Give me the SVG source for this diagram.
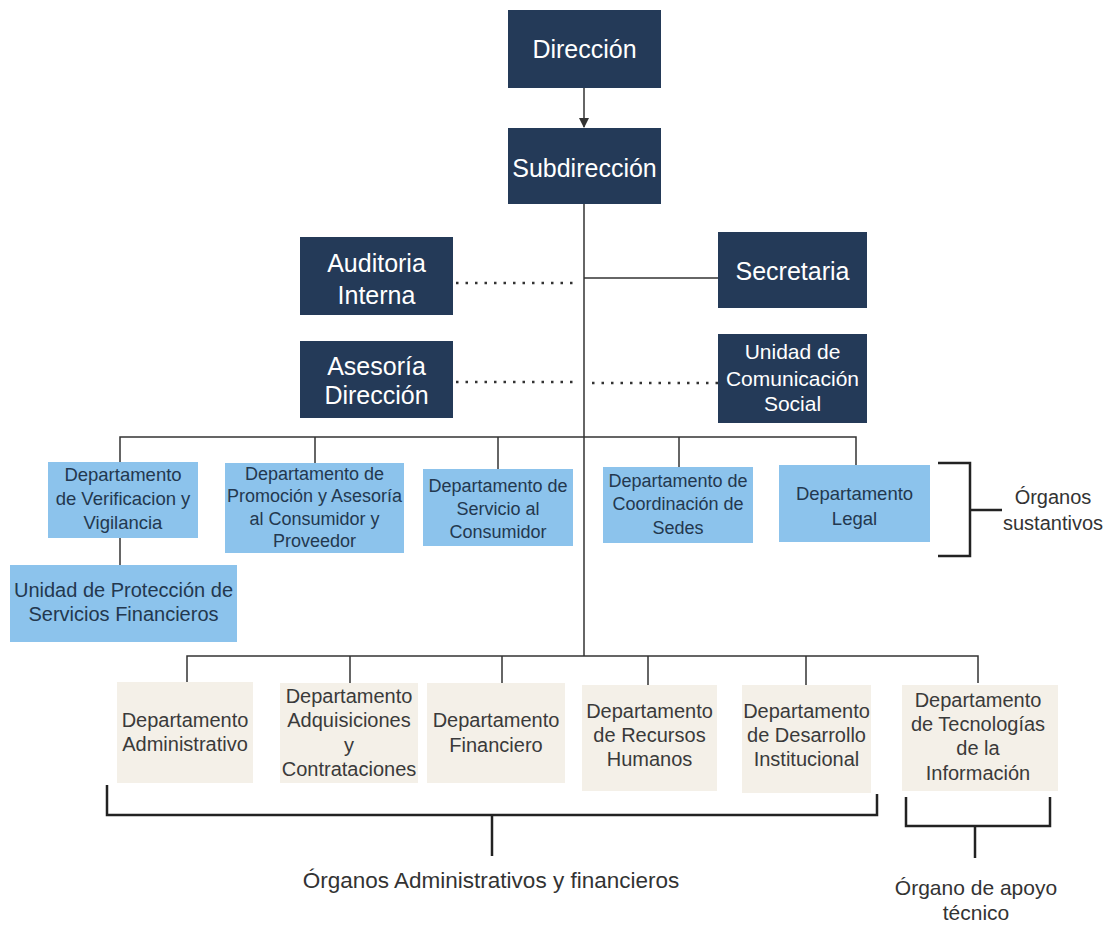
<svg xmlns="http://www.w3.org/2000/svg" width="1108" height="925" viewBox="0 0 1108 925" font-family="'Liberation Sans', Arial, sans-serif">
<style>
text{font-family:"Liberation Sans",Arial,sans-serif;text-anchor:middle}
.dark{fill:#243a58}
.blue{fill:#8cc3ec}
.beige{fill:#f4f0e8}
.tw{fill:#ffffff;font-size:25px}
.tws{fill:#ffffff;font-size:21px}
.tb{fill:#23384f;font-size:18.5px}
.tbs{fill:#23384f;font-size:18px}
.tg{fill:#3a3a3a;font-size:20px}
.tl{fill:#333333;font-size:22.5px}
.ln{stroke:#333;stroke-width:1.5;fill:none}
.dot{stroke:#333;stroke-width:2.5;fill:none;stroke-dasharray:2.5 7}
.br{stroke:#222;stroke-width:2.5;fill:none}
</style>
<defs>
<marker id="arr" markerWidth="10" markerHeight="10" refX="9" refY="5" orient="auto" markerUnits="userSpaceOnUse">
<path d="M0,0 L10,5 L0,10 z" fill="#333"/>
</marker>
</defs>
<rect width="1108" height="925" fill="#ffffff"/>
<g id="connectors">
<line class="ln" x1="584" y1="88" x2="584" y2="127" marker-end="url(#arr)"/>
<line class="ln" x1="584" y1="204" x2="584" y2="656"/>
<line class="ln" x1="584" y1="278" x2="718" y2="278"/>
<line class="dot" x1="456" y1="283" x2="577" y2="283"/>
<line class="dot" x1="456" y1="382" x2="577" y2="382"/>
<line class="dot" x1="592" y1="383" x2="718" y2="383"/>
<polyline class="ln" points="120,462 120,437 856,437 856,465"/>
<line class="ln" x1="315" y1="437" x2="315" y2="463"/>
<line class="ln" x1="498" y1="437" x2="498" y2="469"/>
<line class="ln" x1="679" y1="437" x2="679" y2="467"/>
<line class="ln" x1="120" y1="538" x2="120" y2="565"/>
<polyline class="ln" points="187,683 187,656 978,656 978,683"/>
<line class="ln" x1="350" y1="656" x2="350" y2="683"/>
<line class="ln" x1="502" y1="656" x2="502" y2="683"/>
<line class="ln" x1="648" y1="656" x2="648" y2="685"/>
<line class="ln" x1="806" y1="656" x2="806" y2="685"/>
</g>
<g id="brackets">
<polyline class="br" points="938,463 970,463 970,556 938,556"/>
<line class="br" x1="970" y1="510" x2="1002" y2="510"/>
<polyline class="br" points="107,785 107,815 877,815 877,794"/>
<line class="br" x1="492" y1="815" x2="492" y2="856"/>
<polyline class="br" points="906,797 906,826 1050,826 1050,797"/>
<line class="br" x1="975" y1="826" x2="975" y2="858"/>
</g>
<g id="n-direccion"><rect class="dark" x="508" y="10" width="153" height="78"/><text class="tw" x="584.5" y="58">Dirección</text></g>
<g id="n-subdireccion"><rect class="dark" x="508" y="128" width="153" height="76"/><text class="tw" x="584.5" y="177">Subdirección</text></g>
<g id="n-auditoria"><rect class="dark" x="300" y="237" width="153" height="78"/><text class="tw" x="376.5" y="272">Auditoria</text><text class="tw" x="376.5" y="304">Interna</text></g>
<g id="n-secretaria"><rect class="dark" x="718" y="232" width="149" height="76"/><text class="tw" x="792.5" y="280">Secretaria</text></g>
<g id="n-asesoria"><rect class="dark" x="300" y="341" width="153" height="77"/><text class="tw" x="376.5" y="375">Asesoría</text><text class="tw" x="376.5" y="404">Dirección</text></g>
<g id="n-comunicacion"><rect class="dark" x="718" y="334" width="149" height="89"/><text class="tws" x="792.5" y="359">Unidad de</text><text class="tws" x="792.5" y="386">Comunicación</text><text class="tws" x="792.5" y="411">Social</text></g>
<g id="n-verificacion"><rect class="blue" x="48" y="462" width="150" height="76"/><text class="tb" x="123" y="481">Departamento</text><text class="tb" x="123" y="505">de Verificacion y</text><text class="tb" x="123" y="529">Vigilancia</text></g>
<g id="n-proteccion"><rect class="blue" x="10" y="565" width="227" height="77"/><text class="tb" x="123.5" y="597" style="font-size:20px">Unidad de Protección de</text><text class="tb" x="123.5" y="621" style="font-size:20px">Servicios Financieros</text></g>
<g id="n-promocion"><rect class="blue" x="225" y="463" width="179" height="90"/><text class="tbs" x="314.5" y="480">Departamento de</text><text class="tbs" x="314.5" y="502">Promoción y Asesoría</text><text class="tbs" x="314.5" y="525">al Consumidor y</text><text class="tbs" x="314.5" y="547">Proveedor</text></g>
<g id="n-servicio"><rect class="blue" x="423" y="469" width="150" height="77"/><text class="tbs" x="498" y="492">Departamento de</text><text class="tbs" x="498" y="515">Servicio al</text><text class="tbs" x="498" y="538">Consumidor</text></g>
<g id="n-coordinacion"><rect class="blue" x="603" y="467" width="150" height="76"/><text class="tbs" x="678" y="487">Departamento de</text><text class="tbs" x="678" y="510">Coordinación de</text><text class="tbs" x="678" y="534">Sedes</text></g>
<g id="n-legal"><rect class="blue" x="779" y="465" width="151" height="77"/><text class="tb" x="854.5" y="500">Departamento</text><text class="tb" x="854.5" y="525">Legal</text></g>
<text class="tl" x="1053" y="504" style="font-size:20px">Órganos</text>
<text class="tl" x="1053" y="530" style="font-size:20px">sustantivos</text>
<g id="n-administrativo"><rect class="beige" x="117" y="682" width="136" height="101"/><text class="tg" x="185" y="727">Departamento</text><text class="tg" x="185" y="751">Administrativo</text></g>
<g id="n-adquisiciones"><rect class="beige" x="280" y="683" width="138" height="100"/><text class="tg" x="349" y="703">Departamento</text><text class="tg" x="349" y="727">Adquisiciones</text><text class="tg" x="349" y="752">y</text><text class="tg" x="349" y="776">Contrataciones</text></g>
<g id="n-financiero"><rect class="beige" x="427" y="683" width="138" height="100"/><text class="tg" x="496" y="727">Departamento</text><text class="tg" x="496" y="752">Financiero</text></g>
<g id="n-recursos"><rect class="beige" x="582" y="685" width="135" height="106"/><text class="tg" x="649.5" y="718">Departamento</text><text class="tg" x="649.5" y="742">de Recursos</text><text class="tg" x="649.5" y="766">Humanos</text></g>
<g id="n-desarrollo"><rect class="beige" x="742" y="685" width="129" height="108"/><text class="tg" x="806.5" y="718">Departamento</text><text class="tg" x="806.5" y="742">de Desarrollo</text><text class="tg" x="806.5" y="766">Institucional</text></g>
<g id="n-tecnologias"><rect class="beige" x="902" y="685" width="156" height="106"/><text class="tg" x="978" y="707">Departamento</text><text class="tg" x="978" y="731">de Tecnologías</text><text class="tg" x="978" y="755">de la</text><text class="tg" x="978" y="780">Información</text></g>
<text class="tl" x="491" y="888">Órganos Administrativos y financieros</text>
<text class="tl" x="976" y="895" style="font-size:21px">Órgano de apoyo</text>
<text class="tl" x="976" y="920" style="font-size:21px">técnico</text>
</svg>
